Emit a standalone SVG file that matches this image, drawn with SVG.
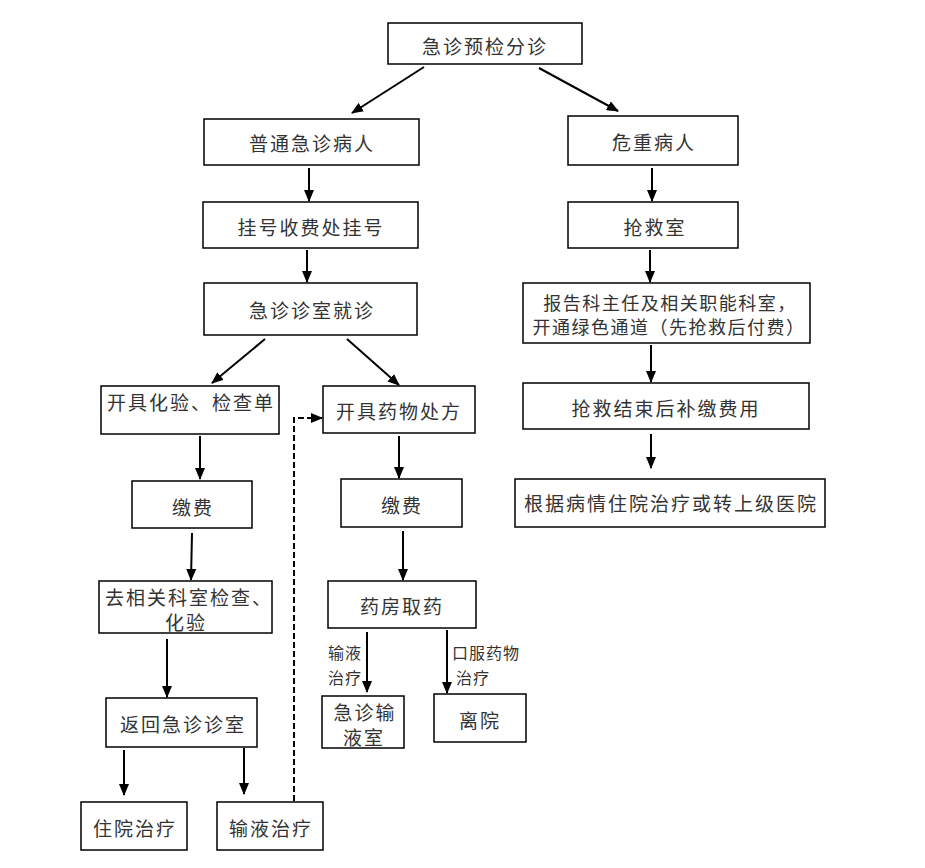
<svg xmlns="http://www.w3.org/2000/svg" width="925" height="868" viewBox="0 0 925 868">
<style>
.b{fill:#fff;stroke:#000;stroke-width:1.5}
.t{font-family:"Noto Sans CJK SC","Noto Sans CJK TC",sans-serif;font-size:19px;letter-spacing:2px;fill:#333;text-anchor:middle;dominant-baseline:central}
.t2{font-size:18px;letter-spacing:1.5px}
.s{font-family:"Noto Sans CJK SC",sans-serif;font-size:16px;letter-spacing:1px;fill:#333;text-anchor:middle;dominant-baseline:central}
.c{stroke:#000;stroke-width:2;fill:none;marker-end:url(#ah)}
.d{stroke:#000;stroke-width:2;fill:none;stroke-dasharray:6,3;marker-end:url(#ah)}
</style>
<defs>
<marker id="ah" viewBox="0 0 12 10" refX="11" refY="5" markerWidth="12" markerHeight="10" markerUnits="userSpaceOnUse" orient="auto">
<path d="M0,0 L12,5 L0,10 z" fill="#000"/>
</marker>
</defs>
<rect width="925" height="868" fill="#fff"/>
<g id="connectors">
<line class="c" x1="424" y1="67" x2="352" y2="113"/>
<line class="c" x1="539" y1="68" x2="618" y2="111"/>
<line class="c" x1="309" y1="168" x2="309" y2="201"/>
<line class="c" x1="307" y1="250" x2="307" y2="282"/>
<line class="c" x1="265" y1="339" x2="212" y2="383"/>
<line class="c" x1="347" y1="339" x2="399" y2="385"/>
<line class="c" x1="200" y1="436" x2="200" y2="479"/>
<line class="c" x1="192" y1="533" x2="191" y2="580"/>
<line class="c" x1="167" y1="639" x2="167" y2="697"/>
<line class="c" x1="124" y1="750" x2="124" y2="795"/>
<line class="c" x1="244" y1="748" x2="244" y2="794"/>
<path class="d" d="M294,801 L294,418 L322,418"/>
<line class="c" x1="399" y1="436" x2="399" y2="478"/>
<line class="c" x1="403" y1="531" x2="403" y2="580"/>
<line class="c" x1="367" y1="632" x2="367" y2="692"/>
<line class="c" x1="447" y1="630" x2="447" y2="693"/>
<line class="c" x1="652" y1="168" x2="652" y2="201"/>
<line class="c" x1="650" y1="250" x2="650" y2="282"/>
<line class="c" x1="651" y1="345" x2="651" y2="382"/>
<line class="c" x1="651" y1="434" x2="651" y2="468"/>
<text class="s" x="345" y="652">输液</text>
<text class="s" x="345" y="677">治疗</text>
<text class="s" x="486" y="652">口服药物</text>
<text class="s" x="473" y="677">治疗</text>
</g>
<g id="n1"><rect class="b" x="388" y="23" width="194" height="41"/><text class="t" x="485" y="45">急诊预检分诊</text></g>
<g id="n2"><rect class="b" x="204" y="119" width="215" height="46"/><text class="t" x="312" y="142">普通急诊病人</text></g>
<g id="n3"><rect class="b" x="568" y="116" width="170" height="49"/><text class="t" x="654" y="141">危重病人</text></g>
<g id="n4"><rect class="b" x="203" y="202" width="215" height="46"/><text class="t" x="311" y="226">挂号收费处挂号</text></g>
<g id="n5"><rect class="b" x="204" y="283" width="213" height="52"/><text class="t" x="312" y="309">急诊诊室就诊</text></g>
<g id="n6"><rect class="b" x="568" y="202" width="170" height="46"/><text class="t" x="655" y="226">抢救室</text></g>
<g id="n7"><rect class="b" x="523" y="283" width="287" height="60"/><text class="t t2" x="670" y="302">报告科主任及相关职能科室，</text><text class="t t2" x="669" y="326">开通绿色通道（先抢救后付费）</text></g>
<g id="n8"><rect class="b" x="523" y="383" width="286" height="46"/><text class="t" x="666" y="407">抢救结束后补缴费用</text></g>
<g id="n9"><rect class="b" x="515" y="479" width="310" height="48"/><text class="t" x="671" y="502">根据病情住院治疗或转上级医院</text></g>
<g id="n10"><rect class="b" x="101" y="386" width="178" height="48"/><text class="t" x="191" y="401">开具化验、检查单</text></g>
<g id="n11"><rect class="b" x="323" y="386" width="152" height="47"/><text class="t" x="399" y="410">开具药物处方</text></g>
<g id="n12"><rect class="b" x="132" y="481" width="120" height="47"/><text class="t" x="193" y="506">缴费</text></g>
<g id="n13"><rect class="b" x="341" y="479" width="121" height="48"/><text class="t" x="402" y="504">缴费</text></g>
<g id="n14"><rect class="b" x="99" y="581" width="173" height="52"/><text class="t" x="189" y="596">去相关科室检查、</text><text class="t" x="186" y="621">化验</text></g>
<g id="n15"><rect class="b" x="328" y="581" width="148" height="47"/><text class="t" x="402" y="605">药房取药</text></g>
<g id="n16"><rect class="b" x="106" y="698" width="151" height="49"/><text class="t" x="183" y="723">返回急诊诊室</text></g>
<g id="n17"><rect class="b" x="322" y="696" width="82" height="52"/><text class="t" x="365" y="711">急诊输</text><text class="t" x="364" y="736">液室</text></g>
<g id="n18"><rect class="b" x="434" y="694" width="92" height="48"/><text class="t" x="480" y="719">离院</text></g>
<g id="n19"><rect class="b" x="81" y="802" width="106" height="48"/><text class="t" x="135" y="827">住院治疗</text></g>
<g id="n20"><rect class="b" x="217" y="802" width="106" height="48"/><text class="t" x="271" y="827">输液治疗</text></g>
</svg>
